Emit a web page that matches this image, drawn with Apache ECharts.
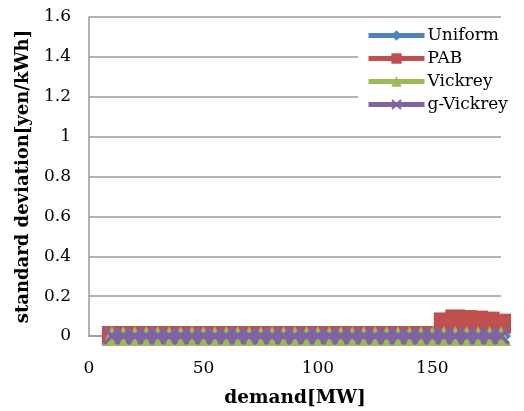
<!DOCTYPE html>
<html>
<head>
<meta charset="utf-8">
<script src="https://cdn.jsdelivr.net/npm/echarts@6/dist/echarts.min.js"></script>
<style>
  html, body { margin: 0; padding: 0; background: #fff; }
  #chart { width: 524px; height: 411px; }
</style>
</head>
<body>
<div id="chart"></div>
<script>
// Demand levels [MW]
const demand = [10, 15, 20, 25, 30, 35, 40, 45, 50, 55, 60, 65, 70, 75, 80, 85, 90, 95,
  100, 105, 110, 115, 120, 125, 130, 135, 140, 145, 150, 155, 160, 165, 170, 175, 180];

// Standard deviation of price [yen/kWh] for each auction rule
const uniform = [0, 0, 0, 0, 0, 0, 0, 0, 0, 0, 0, 0, 0, 0, 0, 0, 0, 0,
  0, 0, 0, 0, 0, 0, 0, 0, 0, 0, 0, 0, 0, 0, 0, 0, 0];
const pab = [0, 0, 0, 0, 0, 0, 0, 0, 0, 0, 0, 0, 0, 0, 0, 0, 0, 0,
  0, 0, 0, 0, 0, 0, 0, 0, 0, 0, 0, 0.068, 0.083, 0.080, 0.077, 0.072, 0.062];
const vickrey = [0, 0, 0, 0, 0, 0, 0, 0, 0, 0, 0, 0, 0, 0, 0, 0, 0, 0,
  0, 0, 0, 0, 0, 0, 0, 0, 0, 0, 0, 0, 0, 0, 0, 0, 0];
const gVickrey = [0, 0, 0, 0, 0, 0, 0, 0, 0, 0, 0, 0, 0, 0, 0, 0, 0, 0,
  0, 0, 0, 0, 0, 0, 0, 0, 0, 0, 0, 0, 0, 0, 0, 0, 0];

const seriesNames = ['Uniform', 'PAB', 'Vickrey', 'g-Vickrey'];
const seriesValues = [uniform, pab, vickrey, gVickrey];
const colors = ['#4F81BD', '#C0504D', '#9BBB59', '#8064A2'];

// Heavy "x" marker outline on a 10x10 box
const w = 1.4;
const crossPath = 'path://' + [
  'M0,' + w, 'L' + w + ',0', 'L5,' + (5 - w), 'L' + (10 - w) + ',0', 'L10,' + w,
  'L' + (5 + w) + ',5', 'L10,' + (10 - w), 'L' + (10 - w) + ',10', 'L5,' + (5 + w),
  'L' + w + ',10', 'L0,' + (10 - w), 'L' + (5 - w) + ',5', 'Z'
].join(' ');
const symbols = ['diamond', 'rect', 'triangle', crossPath];
const symbolSizes = [20, 20, 20, 18];

const font = 'DejaVu Serif';
const gridColor = '#9a9a9a';

const chart = echarts.init(document.getElementById('chart'), null, { renderer: 'canvas' });

chart.setOption({
  animation: false,
  color: colors,
  grid: { left: 89, right: 23, top: 17, bottom: 75, containLabel: false, outerBoundsMode: 'none' },
  xAxis: {
    type: 'value',
    min: 0, max: 180, interval: 50,
    name: 'demand[MW]',
    nameLocation: 'middle',
    nameGap: 53,
    nameTextStyle: { fontFamily: font, fontWeight: 'bold', fontSize: 18.5, color: '#000' },
    axisLine: { show: true, lineStyle: { color: gridColor, width: 1.5 } },
    axisTick: { show: false },
    splitLine: { show: false },
    axisLabel: { fontFamily: font, fontSize: 17, color: '#000', margin: 24, showMaxLabel: false }
  },
  yAxis: {
    type: 'value',
    min: 0, max: 1.6, interval: 0.2,
    name: 'standard deviation[yen/kWh]',
    nameLocation: 'middle',
    nameGap: 57,
    nameTextStyle: { fontFamily: font, fontWeight: 'bold', fontSize: 18, color: '#000' },
    axisLine: { show: true, lineStyle: { color: gridColor, width: 1.5 } },
    axisTick: { show: false },
    splitLine: { show: true, lineStyle: { color: gridColor, width: 1.5 } },
    axisLabel: { fontFamily: font, fontSize: 17, color: '#000', margin: 18 }
  },
  legend: {
    orient: 'vertical',
    left: 358,
    top: 22,
    padding: [5, 6, 6, 8],
    backgroundColor: '#fff',
    itemWidth: 56,
    itemHeight: 13,
    itemGap: 6,
    lineStyle: { width: 5 },
    textStyle: { fontFamily: font, fontSize: 17, color: '#000', padding: [0, 0, 0, -2] },
    data: seriesNames
  },
  series: seriesNames.map((name, i) => ({
    name: name,
    type: 'line',
    data: demand.map((d, k) => [d, seriesValues[i][k]]),
    symbol: symbols[i],
    symbolSize: symbolSizes[i],
    showAllSymbol: true,
    lineStyle: { width: 6, color: colors[i] },
    itemStyle: { color: colors[i] },
    z: 2 + i
  }))
});
</script>
</body>
</html>
